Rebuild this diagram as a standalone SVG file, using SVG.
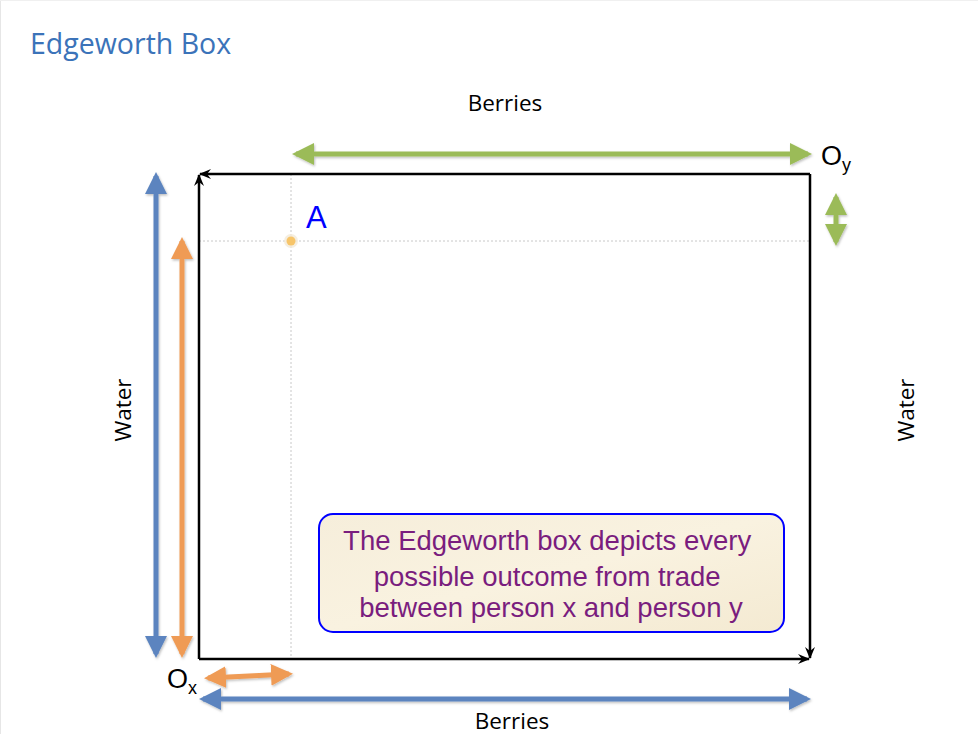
<svg xmlns="http://www.w3.org/2000/svg" width="978" height="734" viewBox="0 0 978 734">
<defs>
<style>
.lbl{font-family:"Open Sans","Liberation Sans",sans-serif;font-size:22.5px;fill:#000}
.thick{fill:none;stroke-width:5}
.box{fill:none;stroke:#000;stroke-width:2.5}
.guide{stroke:#c8c8c8;stroke-width:1;stroke-dasharray:2 2;fill:none}
</style>
<marker id="hg" viewBox="0 0 22 22" refX="18" refY="11" markerWidth="22" markerHeight="22" markerUnits="userSpaceOnUse" orient="auto-start-reverse"><path d="M0,0 L22,11 L0,22 Z" fill="#9bbb59"/></marker>
<marker id="hb" viewBox="0 0 22 22" refX="18" refY="11" markerWidth="22" markerHeight="22" markerUnits="userSpaceOnUse" orient="auto-start-reverse"><path d="M0,0 L22,11 L0,22 Z" fill="#5b84bf"/></marker>
<marker id="ho" viewBox="0 0 22 22" refX="18" refY="11" markerWidth="22" markerHeight="22" markerUnits="userSpaceOnUse" orient="auto-start-reverse"><path d="M0,0 L22,11 L0,22 Z" fill="#ef9b55"/></marker>
<marker id="hk" viewBox="0 0 12 10" refX="11" refY="5" markerWidth="12" markerHeight="10" markerUnits="userSpaceOnUse" orient="auto"><path d="M0,0 L12,5 L0,10 L4,5 Z" fill="#000"/></marker>
<filter id="sh" x="-10%" y="-10%" width="120%" height="120%"><feDropShadow dx="1" dy="1.5" stdDeviation="1" flood-color="#000" flood-opacity="0.25"/></filter>
<linearGradient id="parch" x1="0" y1="0" x2="1" y2="1"><stop offset="0" stop-color="#f6eedb"/><stop offset="0.5" stop-color="#f9f2e0"/><stop offset="1" stop-color="#f4ead2"/></linearGradient>
</defs>
<rect x="0" y="0" width="978" height="734" fill="#fff"/>
<line x1="0.5" y1="0" x2="0.5" y2="734" stroke="#e6e6e6" stroke-width="1"/>
<line x1="0" y1="0.5" x2="978" y2="0.5" stroke="#f0f0f0" stroke-width="1"/>
<text id="title" x="30" y="54" font-family="'Open Sans','Liberation Sans',sans-serif" font-size="28.5" fill="#3b73b9">Edgeworth Box</text>

<g id="guides">
<line class="guide" x1="291" y1="174" x2="291" y2="659"/>
<line class="guide" x1="199" y1="241" x2="810" y2="241"/>
</g>

<g id="box">
<path class="box" d="M810,174 L200,174" marker-end="url(#hk)"/>
<path class="box" d="M199,659 L199,175" marker-end="url(#hk)"/>
<path class="box" d="M199,659 L809,659" marker-end="url(#hk)"/>
<path class="box" d="M810,174 L810,658" marker-end="url(#hk)"/>
</g>

<g id="connectors" filter="url(#sh)">
<line class="thick" stroke="#9bbb59" x1="296" y1="154" x2="808" y2="154" marker-start="url(#hg)" marker-end="url(#hg)"/>
<line class="thick" stroke="#9bbb59" x1="836" y1="197" x2="836" y2="242" marker-start="url(#hg)" marker-end="url(#hg)"/>
<line class="thick" stroke="#5b84bf" x1="156" y1="176" x2="156" y2="654" marker-start="url(#hb)" marker-end="url(#hb)"/>
<line class="thick" stroke="#ef9b55" x1="182" y1="241" x2="182" y2="654" marker-start="url(#ho)" marker-end="url(#ho)"/>
<line class="thick" stroke="#ef9b55" x1="208" y1="678" x2="289" y2="674" marker-start="url(#ho)" marker-end="url(#ho)"/>
<line class="thick" stroke="#5b84bf" x1="203" y1="699" x2="807" y2="699" marker-start="url(#hb)" marker-end="url(#hb)"/>
</g>

<g id="pointA">
<circle cx="291" cy="241" r="7" fill="#f3ead8" opacity="0.8"/>
<circle cx="291" cy="241" r="4.5" fill="#f7c56a"/>
<text x="306" y="228" font-family="'Liberation Sans',Arial,sans-serif" font-size="31" fill="#0000ff">A</text>
</g>

<g id="labels">
<text class="lbl" x="505" y="111" text-anchor="middle">Berries</text>
<text class="lbl" x="512" y="729" text-anchor="middle">Berries</text>
<text class="lbl" transform="translate(131,410) rotate(-90)" text-anchor="middle">Water</text>
<text class="lbl" transform="translate(914,410) rotate(-90)" text-anchor="middle">Water</text>
<text x="821" y="165" font-family="'Liberation Sans',Arial,sans-serif" font-size="27" fill="#000">O<tspan font-size="18" dy="6">y</tspan></text>
<text x="167" y="688" font-family="'Liberation Sans',Arial,sans-serif" font-size="27" fill="#000">O<tspan font-size="18" dy="6">x</tspan></text>
</g>

<g id="callout">
<rect x="319" y="514" width="465" height="118" rx="14" ry="14" fill="url(#parch)" stroke="#0000ff" stroke-width="2"/>
<text font-family="'Liberation Sans',Arial,sans-serif" font-size="27.5" fill="#7a1d7e" text-anchor="middle">
<tspan x="551" y="550">The Edgeworth box depicts every</tspan>
<tspan x="551" y="586">possible outcome from trade</tspan>
<tspan x="551" y="617">between person x and person y</tspan>
</text>
</g>
</svg>
